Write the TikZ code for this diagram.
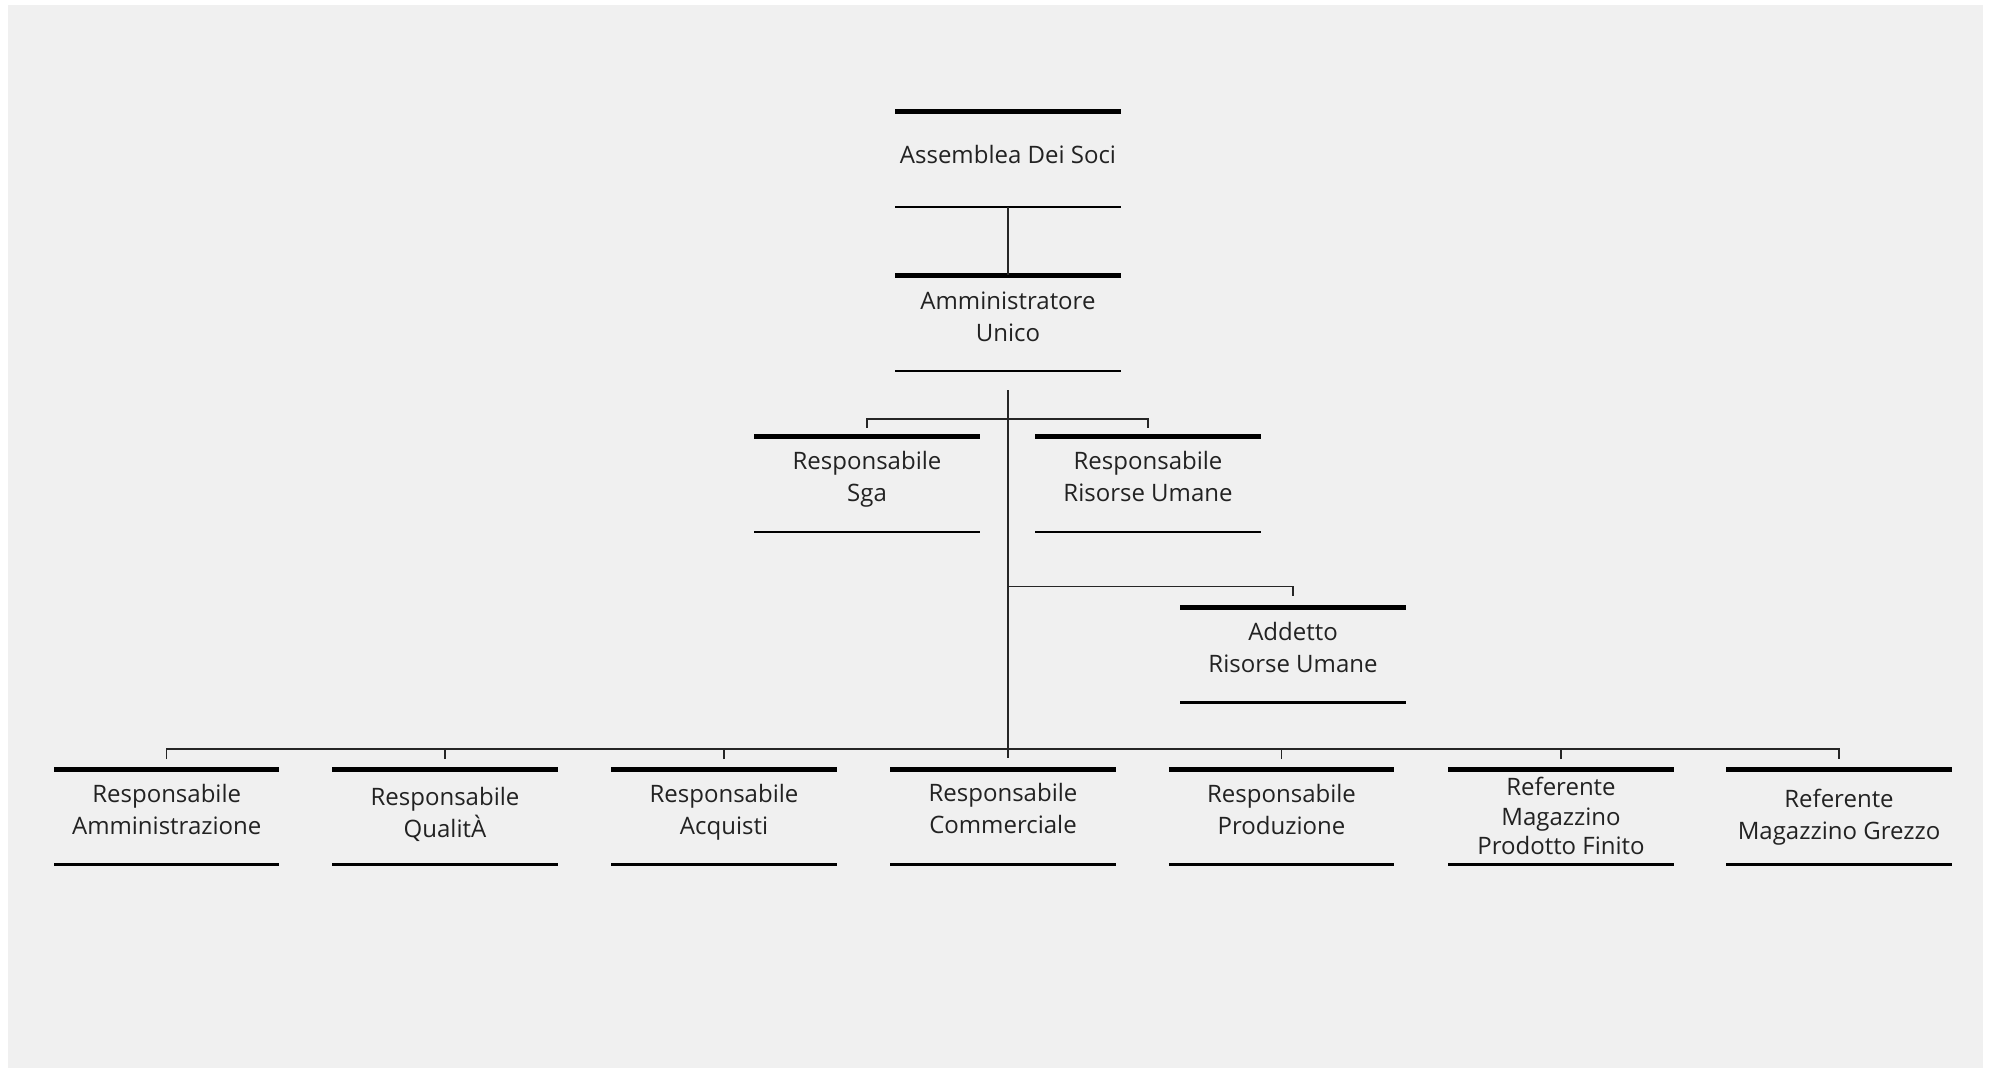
\documentclass[tikz,border=0pt]{standalone}
\usepackage{fontspec}
\setmainfont{Open Sans}
\usetikzlibrary{calc}
\definecolor{bg}{HTML}{F0F0F0}
\definecolor{txt}{HTML}{222222}
\def\lnstH{17.5}
\def\lnstD{14.5}
\def\lnstS{32}
\newcommand{\lnst}{\rule[-\lnstD pt]{0pt}{\dimexpr\lnstH pt+\lnstD pt\relax}}
\newcommand{\bxl}[1]{\lnst\smash{#1}}
\begin{document}
\begin{tikzpicture}[x=1pt,y=-1pt,
  box/.style={minimum width=225pt,minimum height=95pt,inner sep=0pt,align=center,
    text=txt,font={\fontsize{24}{32}\selectfont\lineskiplimit=-100pt\relax}},
  strut/.style n args={3}{font={\def\lnstH{#1}\def\lnstD{#2}\def\lnstS{#3}\fontsize{24}{#3}\selectfont\lineskiplimit=-100pt\relax}},
  topline/.style={line width=5pt,draw=black},
  botline/.style={line width=2.4pt,draw=black},
  conn/.style={line width=1.5pt,draw=black!85}]
\useasboundingbox (0,0) rectangle (1990,1069);
\fill[bg] (8,5) rectangle (1983,1068);
% nodes
\node[box,strut={19.8}{12.2}{32}] (as) at (1008,159.5) {\bxl{Assemblea Dei Soci}};
\node[box,strut={18.9}{13.1}{32}] (au) at (1008,323) {\bxl{Amministratore}\\\bxl{Unico}};
\node[box,strut={16.8}{15.2}{32}] (sga) at (867,484.2) {\bxl{Responsabile}\\\bxl{Sga}};
\node[box,strut={16.8}{15.2}{32}] (rru) at (1148,484.2) {\bxl{Responsabile}\\\bxl{Risorse Umane}};
\node[box,strut={18}{14}{32}] (aru) at (1293,654.8) {\bxl{Addetto}\\\bxl{Risorse Umane}};
\node[box,strut={17.5}{14.5}{32}] (b0) at (166.7,816.8) {\bxl{Responsabile}\\\bxl{Amministrazione}};
\node[box,strut={20.2}{11.8}{32}] (b1) at (445,816.8) {\bxl{Responsabile}\\\bxl{QualitÀ}};
\node[box,strut={17.5}{14.5}{32}] (b2) at (724,816.8) {\bxl{Responsabile}\\\bxl{Acquisti}};
\node[box,strut={17}{15}{32}] (b3) at (1003,816.8) {\bxl{Responsabile}\\\bxl{Commerciale}};
\node[box,strut={17.5}{14.5}{32}] (b4) at (1281.5,816.8) {\bxl{Responsabile}\\\bxl{Produzione}};
\node[box,strut={22.85}{6.45}{29.3}] (b5) at (1561,816.8) {\bxl{Referente}\\\bxl{Magazzino}\\\bxl{Prodotto Finito}};
\node[box,strut={22.4}{9.6}{32}] (b6) at (1839,816.8) {\bxl{Referente}\\\bxl{Magazzino Grezzo}};
% box lines
\foreach \n in {as,au,sga,rru,aru,b0,b1,b2,b3,b4,b5,b6}{
  \draw[topline] (\n.north west) -- (\n.north east);
  \draw[botline] (\n.south west) -- (\n.south east);
}
% connectors
\coordinate (t0) at (1008,390);
\coordinate (j1) at (1008,419);
\coordinate (j2) at (1008,586.3);
\coordinate (j3) at (1008,749);
\coordinate (tend) at (1008,758);
\draw[conn] (as.south) -- (au.north);
\draw[conn] (t0) -- (tend);
\draw[conn] ([yshift=9pt]sga.north) |- (j1) -| ([yshift=9pt]rru.north);
\draw[conn] (j2) -| ([yshift=11pt]aru.north);
\draw[conn] ([yshift=10pt]b0.north) |- (j3) -| ([yshift=10pt]b6.north);
\foreach \n in {b1,b2,b4,b5}{
  \draw[conn] ([yshift=10pt]\n.north) -- (\n.north |- j3);
}
\end{tikzpicture}
\end{document}
